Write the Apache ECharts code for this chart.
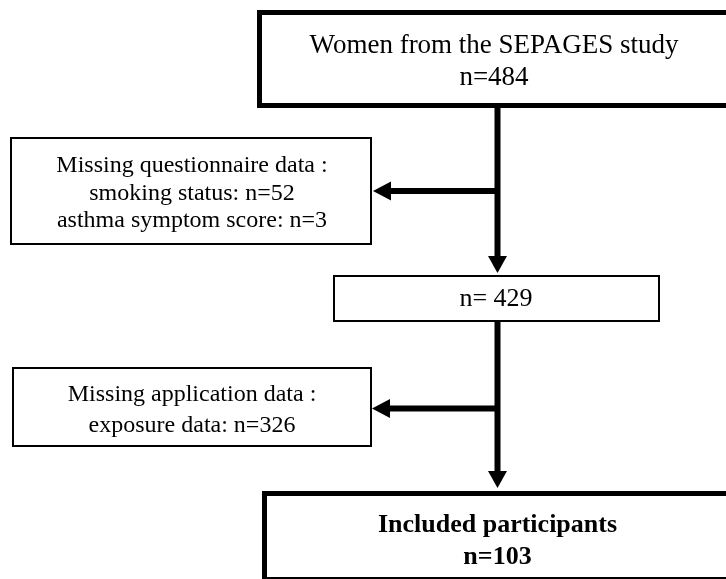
<!DOCTYPE html>
<html>
<head>
<meta charset="utf-8">
<script src="https://cdn.jsdelivr.net/npm/echarts@6/dist/echarts.min.js"></script>
<style>html,body{margin:0;padding:0;background:#fff;}#c{width:726px;height:579px;}</style>
</head>
<body>
<div id="c"></div>
<script>
// ---- data ----
const stepTitles = ['Women from the SEPAGES study', '', 'Included participants'];
const stepCounts = [484, 429, 103];
const exclusionTitles = ['Missing questionnaire data :', 'Missing application data :'];
const exclusionReasons = [['smoking status', 'asthma symptom score'], ['exposure data']];
const exclusionCounts = [[52, 3], [326]];

// ---- layout (pixel-space coordinates on a hidden 726x579 value grid) ----
const stepBoxes = [
  {x0: 259.5, y0: 12.5, x1: 740, y1: 105.5, lw: 5, fs: 27, lh: 32, bold: false, cy: 62},
  {x0: 334, y0: 276, x1: 659, y1: 321, lw: 2, fs: 26, lh: 30, bold: false, cy: 299.5},
  {x0: 264.5, y0: 493.5, x1: 740, y1: 579.5, lw: 5, fs: 26, lh: 32, bold: true, cy: 541}
];
const stepTextX = [494, 496, 497.5];
const exclBoxes = [
  {x0: 11, y0: 138, x1: 371, y1: 244, lw: 2, fs: 24, lh: 27.5, cy: 193.5, tx: 192},
  {x0: 13, y0: 368, x1: 371, y1: 446, lw: 2, fs: 24, lh: 31, cy: 410, tx: 192}
];
const mainX = 497.5;
const downArrows = [[108, 273], [322, 488]];
const sideArrows = [[191, 373], [408.5, 372]];

function stepText(i) {
  const n = i === 1 ? 'n= ' + stepCounts[i] : 'n=' + stepCounts[i];
  return stepTitles[i] ? stepTitles[i] + '\n' + n : n;
}
function exclText(i) {
  const lines = [exclusionTitles[i]];
  exclusionReasons[i].forEach((r, k) => lines.push(r + ': n=' + exclusionCounts[i][k]));
  return lines.join('\n');
}

const FONT = '"Liberation Serif", "Times New Roman", serif';

function boxRender(boxes, texts, txs) {
  return function (params, api) {
    const i = params.dataIndex;
    const b = boxes[i];
    const p0 = api.coord([b.x0, b.y0]);
    const p1 = api.coord([b.x1, b.y1]);
    const tp = api.coord([txs[i], b.cy]);
    return {
      type: 'group',
      children: [
        {type: 'rect', shape: {x: p0[0], y: p0[1], width: p1[0] - p0[0], height: p1[1] - p0[1]},
         style: {fill: '#fff', stroke: '#000', lineWidth: b.lw}},
        {type: 'text', x: tp[0], y: tp[1],
         style: {text: texts[i], align: 'center', verticalAlign: 'middle', fill: '#000',
                 fontFamily: FONT, fontSize: b.fs, lineHeight: b.lh, fontWeight: b.bold ? 'bold' : 'normal'}}
      ]
    };
  };
}

function arrowV(params, api) {
  const a = downArrows[params.dataIndex];
  const s = api.coord([mainX, a[0]]);
  const e = api.coord([mainX, a[1]]);
  const hl = 17, hw = 9.5;
  return {
    type: 'group',
    children: [
      {type: 'line', shape: {x1: s[0], y1: s[1], x2: e[0], y2: e[1] - hl + 1}, style: {stroke: '#000', lineWidth: 6}},
      {type: 'polygon', shape: {points: [[e[0], e[1]], [e[0] - hw, e[1] - hl], [e[0] + hw, e[1] - hl]]}, style: {fill: '#000'}}
    ]
  };
}
function arrowH(params, api) {
  const a = sideArrows[params.dataIndex];
  const s = api.coord([mainX, a[0]]);
  const e = api.coord([a[1], a[0]]);
  const hl = 18, hw = 9.5;
  return {
    type: 'group',
    children: [
      {type: 'line', shape: {x1: s[0], y1: s[1], x2: e[0] + hl - 1, y2: e[1]}, style: {stroke: '#000', lineWidth: 6}},
      {type: 'polygon', shape: {points: [[e[0], e[1]], [e[0] + hl, e[1] - hw], [e[0] + hl, e[1] + hw]]}, style: {fill: '#000'}}
    ]
  };
}

const chart = echarts.init(document.getElementById('c'), null, {renderer: 'canvas'});
chart.setOption({
  backgroundColor: '#fff',
  animation: false,
  grid: {left: 0, right: 0, top: 0, bottom: 0},
  xAxis: {type: 'value', min: 0, max: 726, show: false},
  yAxis: {type: 'value', min: 0, max: 579, inverse: true, show: false},
  series: [
    {type: 'custom', renderItem: arrowV, data: downArrows.map((d, i) => [i]), silent: true, z: 1},
    {type: 'custom', renderItem: arrowH, data: sideArrows.map((d, i) => [i]), silent: true, z: 1},
    {type: 'custom', renderItem: boxRender(stepBoxes, stepTitles.map((t, i) => stepText(i)), stepTextX),
     data: stepBoxes.map((b, i) => [i]), silent: true, z: 2, clip: false},
    {type: 'custom', renderItem: boxRender(exclBoxes, exclusionTitles.map((t, i) => exclText(i)), exclBoxes.map(b => b.tx)),
     data: exclBoxes.map((b, i) => [i]), silent: true, z: 2, clip: false}
  ]
});
</script>
</body>
</html>
